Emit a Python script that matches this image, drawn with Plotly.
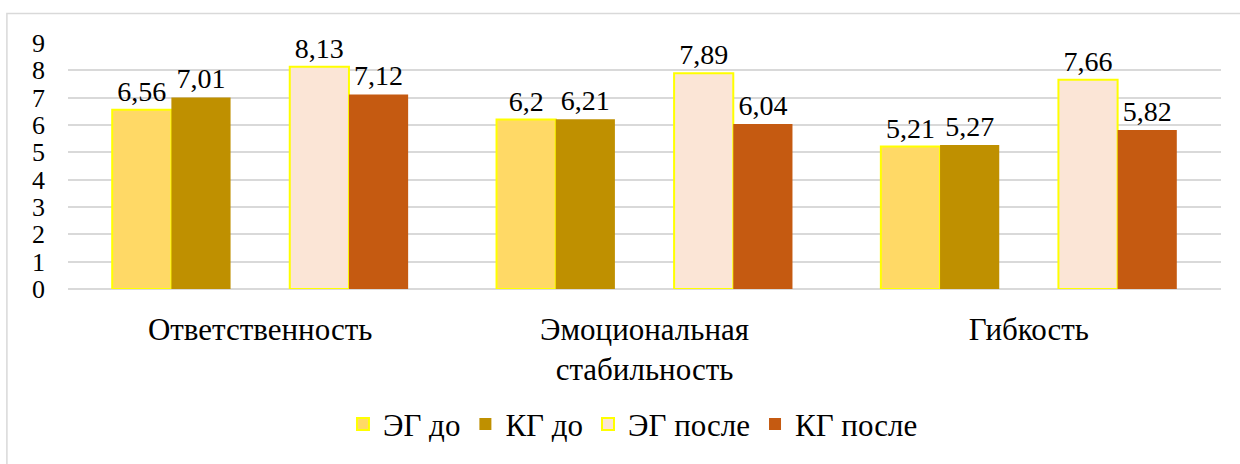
"""
Столбчатая диаграмма: ЭГ / КГ до и после
"""
import plotly.graph_objects as go

categories = ["Ответственность", "Эмоциональная<br>стабильность", "Гибкость"]
series_names = ["ЭГ до", "КГ до", "ЭГ после", "КГ после"]
eg_before = [6.56, 6.2, 5.21]
kg_before = [7.01, 6.21, 5.27]
eg_after = [8.13, 7.89, 7.66]
kg_after = [7.12, 6.04, 5.82]
y_ticks = [0, 1, 2, 3, 4, 5, 6, 7, 8, 9]

FONT = "Liberation Serif"
W = 0.154  # ширина столбца (в долях категории)

styles = [
    dict(color="#FFD966", line=dict(color="#FFFF00", width=2), offset=-2.5 * W),
    dict(color="#BF9000", line=dict(color="#BF9000", width=0), offset=-1.5 * W),
    dict(color="#FBE5D6", line=dict(color="#FFFF00", width=2), offset=0.5 * W),
    dict(color="#C55A11", line=dict(color="#C55A11", width=0), offset=1.5 * W),
]


def fmt(v):
    return f"{v:g}".replace(".", ",")


fig = go.Figure()
for name, vals, st in zip(series_names, [eg_before, kg_before, eg_after, kg_after], styles):
    fig.add_trace(go.Bar(
        x=categories,
        y=vals,
        name=name,
        width=W,
        offset=st["offset"],
        text=[fmt(v) for v in vals],
        textposition="outside",
        textfont=dict(family=FONT, size=28, color="#000000"),
        cliponaxis=False,
        marker=dict(color=st["color"], line=st["line"]),
    ))

fig.update_layout(
    width=1240,
    height=464,
    margin=dict(l=68, r=19, t=43, b=172),
    paper_bgcolor="white",
    plot_bgcolor="white",
    font=dict(family=FONT, size=28, color="#000000"),
    barmode="group",
    showlegend=True,
    legend=dict(
        orientation="h", x=0.49, xanchor="center", y=-0.55, yanchor="middle",
        font=dict(family=FONT, size=31), traceorder="normal",
    ),
    shapes=[dict(
        type="rect", xref="paper", yref="paper",
        x0=-0.053, x1=1.2, y0=-1.5, y1=1.12,
        line=dict(color="#D9D9D9", width=1.5), layer="below",
    )],
)

fig.update_xaxes(
    showline=False, showgrid=False, ticks="",
    tickfont=dict(family=FONT, size=31),
    ticklabelstandoff=19,
)
fig.update_yaxes(
    range=[0, 9], tickvals=y_ticks,
    showgrid=True, gridcolor="#D9D9D9", gridwidth=1.5,
    zeroline=True, zerolinecolor="#D9D9D9", zerolinewidth=1.5,
    showline=False, ticks="",
    tickfont=dict(family=FONT, size=26),
    ticklabelstandoff=22,
)

fig.write_html(
    "out.html",
    config={"displayModeBar": False},
    post_script="document.body.style.margin='0';document.body.style.overflow='hidden';",
)
